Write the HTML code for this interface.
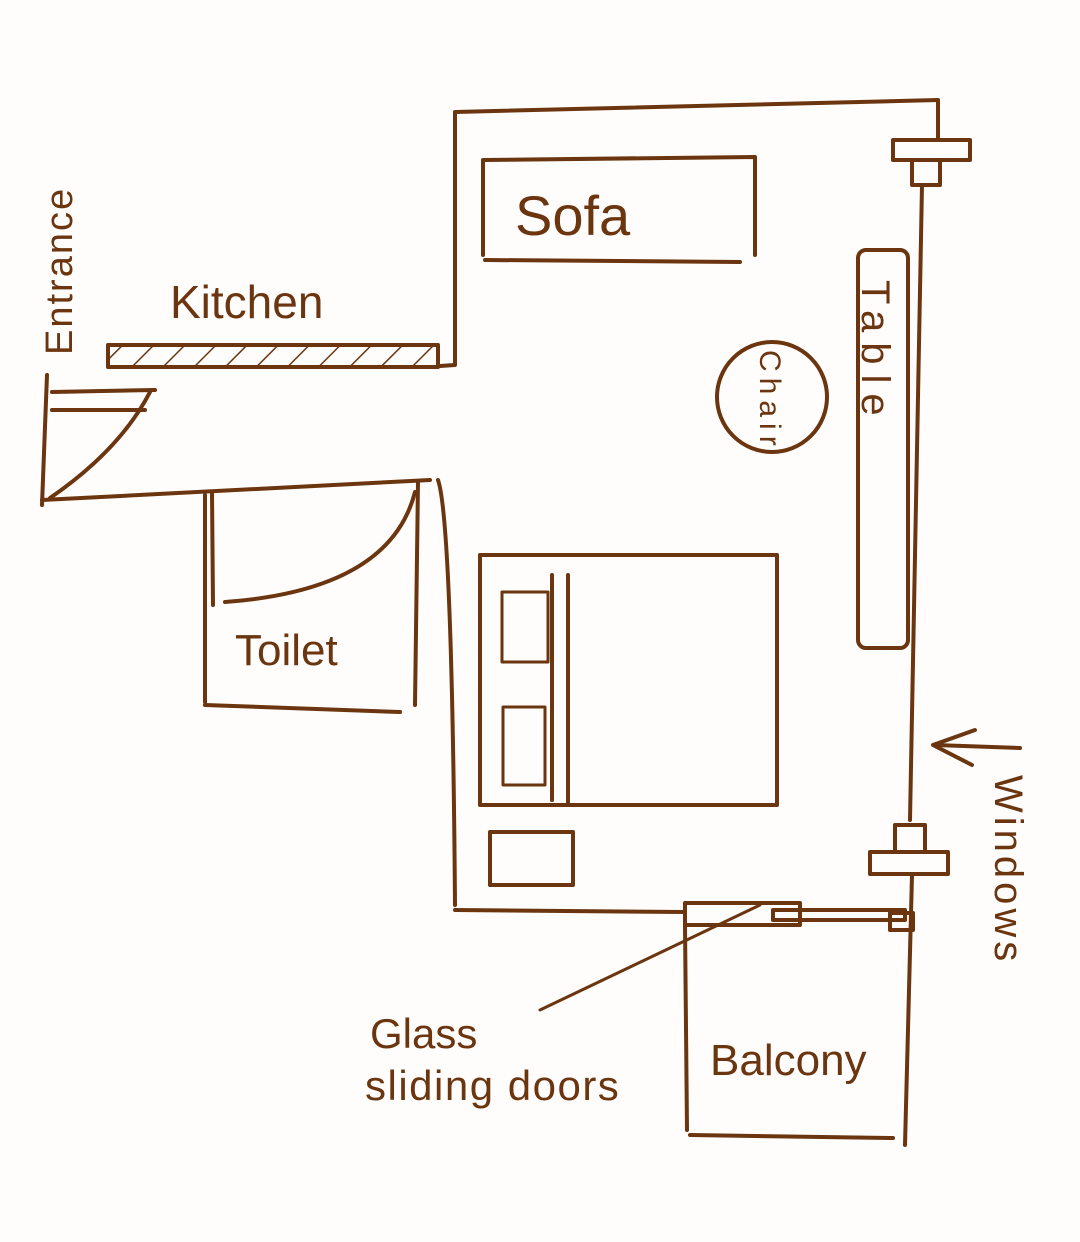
<!DOCTYPE html>
<html><head><meta charset="utf-8"><style>
html,body{margin:0;padding:0;background:#fefdfb;}
svg{display:block}
text{font-family:"Liberation Sans",sans-serif;fill:#6b3510;}
</style></head><body>
<svg width="1080" height="1242" viewBox="0 0 1080 1242" xmlns="http://www.w3.org/2000/svg">
<defs>
<pattern id="h" width="22" height="22" patternUnits="userSpaceOnUse" patternTransform="rotate(45)">
<line x1="0" y1="0" x2="0" y2="22" stroke="#6b3510" stroke-width="3"/>
</pattern>
</defs>
<g fill="none" stroke="#6b3510" stroke-width="4" stroke-linecap="round" stroke-linejoin="round">
<polyline points="440,366 455,365 455,112 938,100 938,140"/>
<rect x="893" y="140" width="77" height="20"/>
<rect x="912" y="160" width="28" height="25"/>
<line x1="922" y1="185" x2="910" y2="820"/>
<rect x="895" y="825" width="30" height="27"/>
<rect x="870" y="852" width="78" height="22"/>
<line x1="912" y1="875" x2="905" y2="1145"/>
<rect x="108" y="345" width="330" height="22" fill="url(#h)"/>
<line x1="47" y1="375" x2="42" y2="505"/>
<line x1="52" y1="392" x2="155" y2="390"/>
<line x1="52" y1="410" x2="145" y2="410"/>
<path d="M150,392 Q120,450 50,498"/>
<line x1="42" y1="500" x2="430" y2="480"/>
<line x1="205" y1="495" x2="205" y2="702"/>
<line x1="212" y1="492" x2="213" y2="605"/>
<path d="M225,602 Q390,590 415,492"/>
<line x1="205" y1="705" x2="400" y2="712"/>
<line x1="418" y1="482" x2="415" y2="705"/>
<path d="M438,480 Q452,520 455,905"/>
<line x1="455" y1="910" x2="685" y2="912"/>
<rect x="480" y="555" width="297" height="250"/>
<line x1="568" y1="575" x2="568" y2="805"/>
<line x1="552" y1="575" x2="552" y2="800"/>
<rect x="502" y="592" width="46" height="70" stroke-width="3"/>
<rect x="503" y="707" width="42" height="78" stroke-width="3"/>
<rect x="490" y="832" width="83" height="53"/>
<polyline points="483,255 483,160 755,157 755,255"/>
<line x1="485" y1="260" x2="740" y2="262"/>
<rect x="858" y="250" width="50" height="398" rx="8"/>
<circle cx="772" cy="397" r="55"/>
<rect x="685" y="903" width="115" height="22"/>
<rect x="773" y="910" width="132" height="10"/>
<rect x="890" y="913" width="23" height="17"/>
<line x1="685" y1="925" x2="687" y2="1130"/>
<line x1="690" y1="1135" x2="893" y2="1138"/>
<line x1="540" y1="1010" x2="760" y2="905" stroke-width="3"/>
<line x1="935" y1="745" x2="1020" y2="748"/>
<polyline points="975,730 933,745 972,765"/>
</g>
<text x="515" y="235" font-size="56">Sofa</text>
<text x="170" y="318" font-size="46">Kitchen</text>
<text x="235" y="665" font-size="44">Toilet</text>
<text x="710" y="1075" font-size="44">Balcony</text>
<text x="370" y="1048" font-size="42">Glass</text>
<text x="365" y="1100" font-size="42" letter-spacing="1.5">sliding doors</text>
<text transform="translate(862,280) rotate(90)" font-size="40" letter-spacing="10">Table</text>
<text transform="translate(760,350) rotate(90)" font-size="30" letter-spacing="6">Chair</text>
<text transform="translate(995,775) rotate(90)" font-size="40" letter-spacing="4">Windows</text>
<text transform="translate(72,355) rotate(-90)" font-size="38" letter-spacing="2">Entrance</text>
</svg>
</body></html>
